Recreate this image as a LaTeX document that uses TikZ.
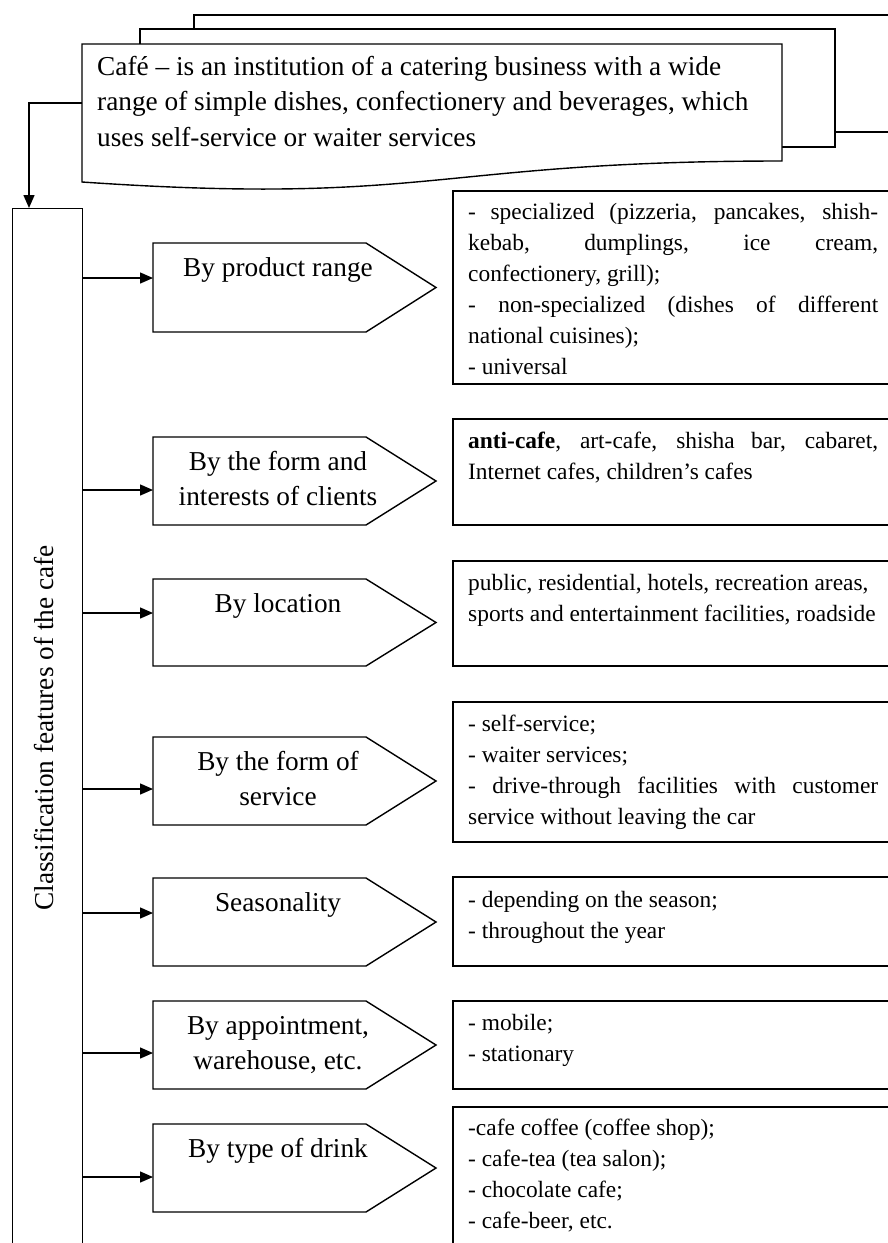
\documentclass[tikz,border=0pt]{standalone}
\usepackage{fontspec}
\setmainfont{Liberation Serif}
\usetikzlibrary{arrows.meta}
\newcommand\cafehead{\fontsize{27.3}{35.5}\selectfont}
\newcommand\cafelist{\fontsize{23.4}{31}\selectfont}
\tikzset{
	frame/.style={draw,fill=white,line width=1.4pt},
	link/.style={line width=1.4pt,-{Triangle[length=13pt,width=11pt]}},
	feature/.style={anchor=base,inner sep=0pt,font=\cafehead},
	detail/.style={anchor=base west,inner sep=0pt},
}

\begin{document}
\begin{tikzpicture}[x=1pt,y=-1pt]
	\useasboundingbox (0,0) rectangle (888,1243);
	% definition of a cafe
	\filldraw[frame] (194,15) rectangle (941,132);
	\filldraw[frame] (140,29) rectangle (835,147);
	\filldraw[frame] (82,44) -- (782,44) -- (782,161) .. controls (432,161) and (432,206) .. (82,182) -- cycle;
	\node[detail] (cafe) at (97,75) {\parbox[t]{680pt}{\cafehead Café – is an institution of a catering business with a wide\\
		range of simple dishes, confectionery and beverages, which\\
		uses self-service or waiter services}};
	\coordinate (cafeout) at (82,103);
	% classification column
	\node[frame,anchor=north west,minimum width=70pt,minimum height=1060pt,inner sep=0pt] (class) at (12,208) {};
	\node[rotate=90,inner sep=0pt,font=\cafehead] (classtext) at (44,728) {Classification features of the cafe};
	\coordinate (classin) at (29,208);
	\draw[link] (cafeout) -| (classin);
	% features
	\foreach \n/\t/\b/\a in {1/243/332/278,2/437/525/490,3/579/666/613,4/737/825/789,5/878/966/913,6/1001/1089/1053,7/1124/1212/1177}
	{
		\draw[frame] (153,\t) -- (366,\t) -- (436,{(\t+\b)/2}) -- (366,\b) -- (153,\b) -- cycle;
		\coordinate (in\n) at (153,\a);
		\draw[link] (class.east |- in\n) -- (in\n);
	}
	\node[feature] (f1) at (278,276) {By product range};
	\node[feature] (f2) at (278,470) {\parbox[t]{260pt}{\centering By the form and\\ interests of clients}};
	\node[feature] (f3) at (278,612) {By location};
	\node[feature] (f4) at (278,770) {\parbox[t]{260pt}{\centering By the form of\\ service}};
	\node[feature] (f5) at (278,911) {Seasonality};
	\node[feature] (f6) at (278,1034) {\parbox[t]{260pt}{\centering By appointment,\\ warehouse, etc.}};
	\node[feature] (f7) at (278,1157) {By type of drink};
	% kinds of cafe
	\foreach \t/\b in {191/384,419/525,561/666,702/842,877/966,1001/1089,1107/1300}
		\draw[frame] (453,\t) rectangle (900,\b);
	\node[detail] (d1) at (468,219) {\parbox[t]{410pt}{\cafelist - specialized (pizzeria, pancakes, shish-\linebreak
		kebab, dumplings, ice cream,\linebreak
		confectionery, grill);\\
		- non-specialized (dishes of different\linebreak
		national cuisines);\\
		- universal}};
	\node[detail] (d2) at (468,448) {\parbox[t]{410pt}{\cafelist \textbf{anti-cafe}, art-cafe, shisha bar, cabaret,\linebreak
		Internet cafes, children’s cafes}};
	\node[detail] (d3) at (468,590) {\parbox[t]{412pt}{\cafelist public, residential, hotels, recreation areas,\\
		sports and entertainment facilities, roadside}};
	\node[detail] (d4) at (468,731) {\parbox[t]{410pt}{\cafelist - self-service;\\
		- waiter services;\\
		- drive-through facilities with customer\linebreak
		service without leaving the car}};
	\node[detail] (d5) at (468,907) {\parbox[t]{410pt}{\cafelist - depending on the season;\\
		- throughout the year}};
	\node[detail] (d6) at (468,1030) {\parbox[t]{410pt}{\cafelist - mobile;\\
		- stationary}};
	\node[detail] (d7) at (468,1135) {\parbox[t]{410pt}{\cafelist -cafe coffee (coffee shop);\\
		- cafe-tea (tea salon);\\
		- chocolate cafe;\\
		- cafe-beer, etc.}};
\end{tikzpicture}
\end{document}
